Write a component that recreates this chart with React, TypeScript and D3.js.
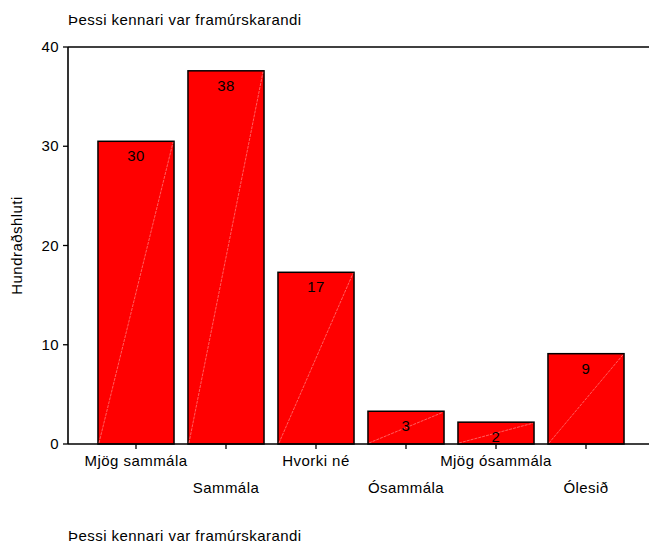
import React from "react";
import * as d3 from "d3";

const categories = ["Mjög sammála", "Sammála", "Hvorki né", "Ósammála", "Mjög ósammála", "Ólesið"];
const percents = [30.5, 37.6, 17.3, 3.3, 2.2, 9.1];
const barLabels = ["30", "38", "17", "3", "2", "9"];
const yTicks = [0, 10, 20, 30, 40];
const title = "Þessi kennari var framúrskarandi";
const yTitle = "Hundraðshluti";

const W = 649;
const H = 543;
const left = 68;
const top = 47;
const bottom = 444;
const font = "'Liberation Sans', Arial, sans-serif";
const fs = 15;
const ls = "0.45px";

export default function App() {
  const x = d3
    .scaleBand<string>()
    .domain(categories)
    .range([91, 631])
    .paddingInner(0.155)
    .paddingOuter(0.0775);
  const y = d3.scaleLinear().domain([0, 40]).range([bottom, top]);
  const bw = x.bandwidth();

  return (
    <svg
      width={W}
      height={H}
      style={{ position: "absolute", left: 0, top: 0, display: "block", background: "#fff" }}
      fontFamily={font}
    >
      <text x={68} y={25} fontSize={fs} letterSpacing={ls} fill="#000">
        {title}
      </text>
      {categories.map((c, i) => {
        const x0 = x(c)!;
        const yt = y(percents[i]);
        return (
          <g key={c}>
            <rect x={x0} y={yt} width={bw} height={bottom - yt} fill="#ff0000" stroke="#000" strokeWidth={1.5} />
            <line x1={x0 + 1} y1={bottom - 1} x2={x0 + bw - 1} y2={yt + 1} stroke="#ffa0a0" strokeWidth={0.6} strokeDasharray="3,1" />
            <text x={x0 + bw / 2} y={yt + 20} textAnchor="middle" fontSize={fs} letterSpacing={ls} fill="#000">
              {barLabels[i]}
            </text>
          </g>
        );
      })}
      <line x1={left} y1={top} x2={W} y2={top} stroke="#000" strokeWidth={1.6} />
      <line x1={left} y1={bottom} x2={W} y2={bottom} stroke="#000" strokeWidth={1.6} />
      <line x1={left} y1={top} x2={left} y2={bottom} stroke="#000" strokeWidth={1.6} />
      {yTicks.map((t) => (
        <g key={t}>
          <line x1={left - 5} y1={y(t)} x2={left} y2={y(t)} stroke="#000" strokeWidth={1.3} />
          <text x={59} y={y(t) + 5} textAnchor="end" fontSize={fs} letterSpacing={ls} fill="#000">
            {t}
          </text>
        </g>
      ))}
      {categories.map((c, i) => {
        const cx = x(c)! + bw / 2;
        return (
          <g key={"t" + c}>
            <line x1={cx} y1={bottom} x2={cx} y2={bottom + 5} stroke="#000" strokeWidth={1.3} />
            <text x={cx} y={i % 2 === 0 ? 466 : 493} textAnchor="middle" fontSize={fs} letterSpacing={ls} fill="#000">
              {c}
            </text>
          </g>
        );
      })}
      <text
        transform={`translate(22,${(top + bottom) / 2}) rotate(-90)`}
        textAnchor="middle"
        fontSize={fs}
        letterSpacing={ls}
        fill="#000"
      >
        {yTitle}
      </text>
      <text x={68} y={541} fontSize={fs} letterSpacing={ls} fill="#000">
        {title}
      </text>
    </svg>
  );
}
